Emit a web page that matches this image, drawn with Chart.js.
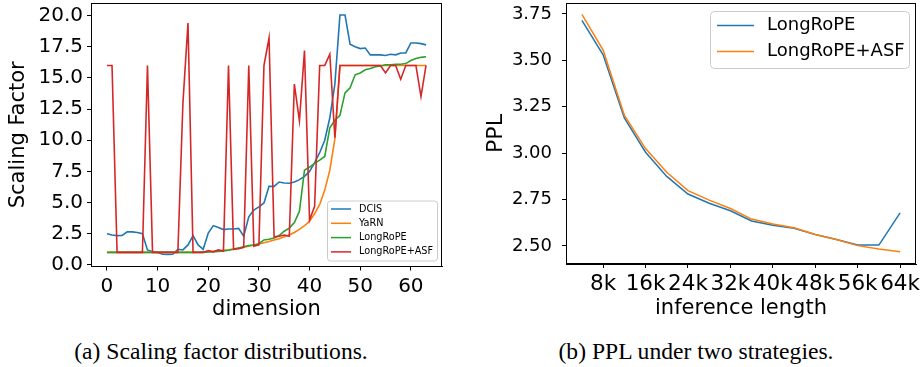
<!DOCTYPE html>
<html>
<head>
<meta charset="utf-8">
<script src="https://cdn.jsdelivr.net/npm/chart.js@4.4.1/dist/chart.umd.min.js"></script>
<style>
  body { margin: 0; background: #fff; width: 924px; height: 367px; position: relative; overflow: hidden; }
  canvas { position: absolute; top: 0; }
  .caption { position: absolute; font-family: "Liberation Serif", "DejaVu Serif", serif; font-size: 23.6px; color: #000; white-space: nowrap; transform: translate(-50%, -50%); }
</style>
</head>
<body>
<canvas id="leftChart" width="460" height="335" style="left:0px"></canvas>
<canvas id="rightChart" width="464" height="335" style="left:460px"></canvas>
<div class="caption" style="left:221px; top:351px">(a) Scaling factor distributions.</div>
<div class="caption" style="left:696px; top:351px">(b) PPL under two strategies.</div>
<script>
// (a) scaling factor per dimension
const dims = [0,1,2,3,4,5,6,7,8,9,10,11,12,13,14,15,16,17,18,19,20,21,22,23,24,25,26,27,28,29,30,31,
    32,33,34,35,36,37,38,39,40,41,42,43,44,45,46,47,48,49,50,51,52,53,54,55,56,57,58,59,60,61,62,63];
const dcis = [2.5,2.4,2.35,2.37,2.65,2.65,2.6,2.5,1.2,1.05,1.0,0.85,0.83,0.85,1.25,1.2,
    1.6,2.35,1.6,1.25,2.55,3.15,3.0,2.83,2.88,2.88,2.93,2.3,3.85,4.4,4.65,4.97,
    6.3,6.3,6.65,6.57,6.55,6.65,6.84,7.1,7.5,8.2,9.0,10.0,11.8,14.5,20.05,20.05,
    17.7,17.5,17.35,17.4,16.85,16.85,16.85,16.8,16.9,16.85,17.0,17.0,17.8,17.8,17.75,17.65];
const yarn = [1,1,1,1,1,1,1,1,1,1,1,1,1,1,1,1,
    1,1,1.01,1.03,1.05,1.08,1.12,1.17,1.22,1.28,1.35,1.42,1.5,1.6,1.68,1.78,
    1.88,2.0,2.1,2.25,2.4,2.6,2.85,3.15,3.5,4.1,4.85,6.0,7.6,10.1,16,16,
    16,16,16,16,16,16,16,16,16,16,16,16,16,16,16,16];
const longrope = [1,1,1,1,1,1,1,1,1,1,1,1,1,1,1,1,
    1,1,1,1,1.03,1.05,1.08,1.12,1.17,1.25,1.35,1.45,1.55,1.6,1.7,2.0,
    2.05,2.15,2.35,2.7,2.95,3.4,4.3,7.6,7.85,8.15,8.4,8.7,11.0,11.6,12.0,13.8,
    14.2,15.25,15.4,15.65,15.75,15.9,15.95,16.05,16.05,16.1,16.1,16.15,16.4,16.55,16.65,16.7];
const longropeAsf = [16,16,1,1,1,1,1,1,16,1,1,1,1,1,1,13.0,
    19.4,1,1,1,1.15,1.05,1.2,1.12,16,1.25,1.3,1.4,16,1.5,1.6,16,
    18.2,2.25,2.3,2.4,2.3,14.5,11.55,17.2,3.6,4.7,16,16,16.9,10.2,16,16,
    16,16,16,16,16,16,16,15.4,16,16,14.9,16,16,16,13.5,16];
const dimTicks = [0,10,20,30,40,50,60];
const scaleTicks = [0,2.5,5,7.5,10,12.5,15,17.5,20];

// (b) PPL vs inference length (k tokens)
const lengths = [4,8,12,16,20,24,28,32,36,40,44,48,52,56,60,64];
const pplLongrope = [3.715,3.53,3.19,3.005,2.875,2.78,2.73,2.69,2.635,2.612,2.595,2.562,2.535,2.505,2.505,2.678];
const pplAsf = [3.748,3.555,3.205,3.025,2.897,2.798,2.747,2.702,2.645,2.618,2.598,2.562,2.535,2.502,2.484,2.469];
const lengthTicks = [8,16,24,32,40,48,56,64];
const pplTicks = [2.5,2.75,3.0,3.25,3.5,3.75];

Chart.defaults.color = '#000';
Chart.defaults.font.family = '"DejaVu Sans", sans-serif';

const frame = {
    id: 'frame',
    afterDatasetsDraw(chart) {
        const a = chart.chartArea, c = chart.ctx;
        c.save();
        c.strokeStyle = '#000';
        c.lineWidth = 1;
        c.strokeRect(Math.round(a.left) + 0.5, Math.round(a.top) + 0.5,
            Math.round(a.right - a.left) - 1, Math.round(a.bottom - a.top) - 1);
        c.restore();
    }
};

// matplotlib-like legend drawn inside the axes
const boxLegend = {
    id: 'boxLegend',
    afterDraw(chart, args, o) {
        const c = chart.ctx, a = chart.chartArea;
        const sets = chart.data.datasets;
        const w = o.width, h = o.height;
        const x = a.right - o.dx - w;
        const y = o.corner === 'br' ? a.bottom - o.dy - h : a.top + o.dy;
        c.save();
        c.beginPath();
        c.roundRect(x + 0.5, y + 0.5, w, h, o.radius);
        c.fillStyle = 'rgba(255,255,255,0.8)';
        c.fill();
        c.strokeStyle = '#cccccc';
        c.lineWidth = 1;
        c.stroke();
        c.font = o.size + 'px "DejaVu Sans"';
        c.textBaseline = 'middle';
        c.fillStyle = '#000';
        sets.forEach((ds, i) => {
            const cy = y + o.first + i * o.step;
            c.strokeStyle = ds.borderColor;
            c.lineWidth = 1.5;
            c.beginPath();
            c.moveTo(x + o.hx, cy);
            c.lineTo(x + o.hx + o.hlen, cy);
            c.stroke();
            c.fillText(ds.label, x + o.tx, cy);
        });
        c.restore();
    }
};

function axisCfg(min, max, tickList, fmt, size, pad, size2, titleText, titlePad, titleSize, horizontal) {
    return {
        type: 'linear', min: min, max: max,
        afterBuildTicks: ax => { ax.ticks = tickList.map(v => ({ value: v })); },
        afterFit: s => {
            if (horizontal) s.height = size2; else s.width = size2;
            s.paddingTop = 0; s.paddingBottom = 0; s.paddingLeft = 0; s.paddingRight = 0;
        },
        ticks: { callback: fmt, font: { size: size }, padding: pad, autoSkip: false, maxRotation: 0, color: '#000' },
        grid: { drawOnChartArea: false, drawTicks: true, tickLength: 4, color: '#000', lineWidth: 1 },
        border: { display: true, color: '#000', width: 1 },
        title: { display: true, text: titleText, font: { size: titleSize }, padding: titlePad, color: '#000' }
    };
}

function series(xs, ys) {
    return xs.map((x, i) => ({ x: x, y: ys[i] }));
}

new Chart(document.getElementById('leftChart'), {
    type: 'line',
    data: {
        datasets: [
            { label: 'DCIS', data: series(dims, dcis), borderColor: '#1f77b4', order: 3 },
            { label: 'YaRN', data: series(dims, yarn), borderColor: '#ff7f0e', order: 2 },
            { label: 'LongRoPE', data: series(dims, longrope), borderColor: '#2ca02c', order: 1 },
            { label: 'LongRoPE+ASF', data: series(dims, longropeAsf), borderColor: '#d62728', order: 0 }
        ]
    },
    options: {
        responsive: false, animation: false, devicePixelRatio: 1,
        layout: { autoPadding: false, padding: { top: 3, right: 18, left: 0, bottom: 0 } },
        elements: { point: { radius: 0 }, line: { borderWidth: 1.6, tension: 0 } },
        plugins: {
            legend: { display: false }, tooltip: { enabled: false },
            boxLegend: { corner: 'br', dx: 5, dy: 6, width: 110, height: 60, radius: 3, size: 9.7,
                first: 8.5, step: 14.3, hx: 4, hlen: 20, tx: 32 }
        },
        scales: {
            x: axisCfg(-3.15, 66.15, dimTicks, v => String(v), 20, 4, 68.5,
                'dimension', { top: 0, bottom: 13 }, 21, true),
            y: axisCfg(-0.13, 21.01, scaleTicks, v => v.toFixed(1), 20, 4, 91,
                'Scaling Factor', { top: 6, bottom: 0 }, 21, false)
        }
    },
    plugins: [frame, boxLegend]
});

new Chart(document.getElementById('rightChart'), {
    type: 'line',
    data: {
        datasets: [
            { label: 'LongRoPE', data: series(lengths, pplLongrope), borderColor: '#1f77b4', order: 1 },
            { label: 'LongRoPE+ASF', data: series(lengths, pplAsf), borderColor: '#ff7f0e', order: 0 }
        ]
    },
    options: {
        responsive: false, animation: false, devicePixelRatio: 1,
        layout: { autoPadding: false, padding: { top: 3, right: 8, left: 0, bottom: 0 } },
        elements: { point: { radius: 0 }, line: { borderWidth: 1.5, tension: 0 } },
        plugins: {
            legend: { display: false }, tooltip: { enabled: false },
            boxLegend: { corner: 'tr', dx: 7, dy: 8, width: 199, height: 57, radius: 4, size: 18,
                first: 14.5, step: 26, hx: 7, hlen: 37, tx: 57 }
        },
        scales: {
            x: axisCfg(1, 67, lengthTicks, v => v + 'k', 21.5, 4, 71,
                'inference length', { top: 0, bottom: 14 }, 21, true),
            y: axisCfg(2.403, 3.809, pplTicks, v => v.toFixed(2), 18, 10, 106,
                'PPL', { top: 23, bottom: 0 }, 22, false)
        }
    },
    plugins: [frame, boxLegend]
});
</script>
</body>
</html>
